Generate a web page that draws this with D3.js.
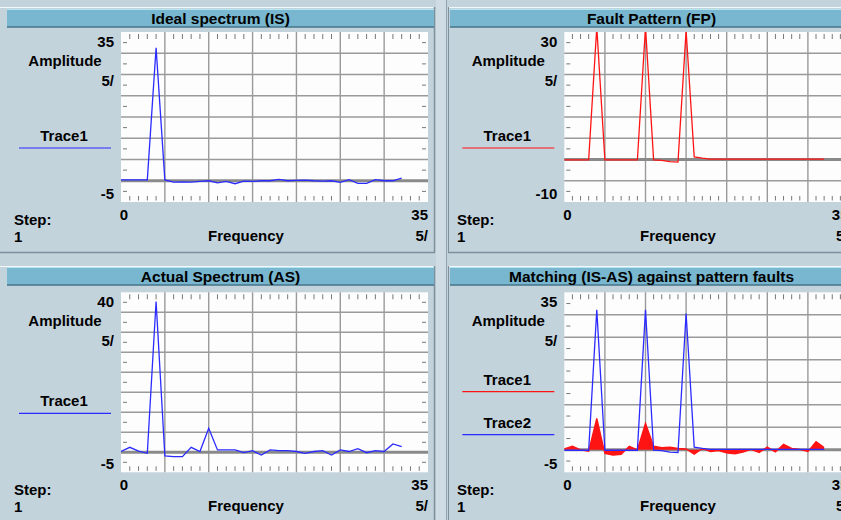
<!DOCTYPE html>
<html>
<head>
<meta charset="utf-8">
<script src="https://cdn.jsdelivr.net/npm/d3@7"></script>
<style>
  body { margin: 0; background: #c3d3dc; }
  text { font-family: "Liberation Sans", Arial, sans-serif; font-weight: bold; font-size: 15px; fill: #000; }
</style>
</head>
<body>
<div id="chart"></div>
<script>
// data (x = frequency bins, one value per bin)
const freq = [0,1,2,3,4,5,6,7,8,9,10,11,12,13,14,15,16,17,18,19,20,21,22,23,24,25,26,27,28,29,30,31,32];

const isValues = [0.2,0.2,0.2,0.2,31.3,0.2,-0.3,-0.25,-0.3,-0.15,0,-0.5,-0.15,-0.7,-0.1,-0.15,0,0,0.3,0,0.1,0.15,0,-0.1,0,-0.4,0.25,-0.6,-0.6,0.25,0,0,0.6];
const fpValues = [-0.1,-0.1,-0.1,-0.1,31.1,-0.1,-0.1,-0.1,-0.1,-0.1,31.1,-0.1,-0.2,-0.5,-0.6,30.3,0.6,0.3,0.1,0.1,0.1,0.1,0.1,0.1,0.1,0.1,0.1,0.1,0.1,0.1,0.1,0.1,0.1];
const asValues = [0.2,1.25,0.3,-0.25,37.7,-0.9,-1.1,-1.1,1.25,0.2,6.0,0.6,0.6,0.6,-0.1,0.4,-0.7,0.6,0.4,0.4,0.2,-0.25,0.2,0.4,-0.7,0.6,0.2,0.9,-0.1,0.4,0.2,2.1,1.4];
const diffValues = [0.2,0.8,0,-0.3,7.0,-0.8,-1.2,-1.0,0.8,0,5.9,0.8,0.5,0.6,0.3,0.2,-1.0,0.3,-0.4,-0.2,-0.7,-0.9,-0.5,0.1,-0.6,0.6,-0.5,1.2,0.3,0.1,-0.4,1.8,0.5];

const titles = ["Ideal spectrum (IS)", "Fault Pattern (FP)", "Actual Spectrum (AS)", "Matching (IS-AS) against pattern faults"];
const yMaxes = [35, 30, 40, 35];
const yMins = [-5, -10, -5, -5];
const xDomain = [0, 35];
const perDiv = "5/";

const blue = "#2b2bff", red = "#ff1414";
const bg = "#c3d3dc";

const W = 841, H = 520;
const svg = d3.select("#chart").append("svg").attr("width", W).attr("height", H);
svg.append("rect").attr("width", W).attr("height", H).attr("fill", bg);

// gaps between panels
svg.append("rect").attr("x", 436).attr("y", 0).attr("width", 11).attr("height", H).attr("fill", "#cfdce4");
svg.append("line").attr("x1", 446.5).attr("x2", 446.5).attr("y1", 0).attr("y2", H).attr("stroke", "#8fa2ad");

const panels = [
  { bar: [7, 434], top: 9, frame: [0, 7, 435, 246], plotL: 121, plotR: 428, plotT: 32, plotB: 202,
    series: [{ values: isValues, color: blue, name: "Trace1" }] },
  { bar: [450, 853], top: 9, frame: [448, 7, 420, 246], plotL: 564.3, plotR: 848.5, plotT: 32, plotB: 202,
    series: [{ values: fpValues, color: red, name: "Trace1" }] },
  { bar: [7, 434], top: 267, frame: [0, 266, 435, 260], plotL: 121, plotR: 428, plotT: 292.3, plotB: 472.3,
    series: [{ values: asValues, color: blue, name: "Trace1" }] },
  { bar: [450, 853], top: 267, frame: [448, 266, 420, 260], plotL: 564.3, plotR: 848.5, plotT: 292.3, plotB: 472.3,
    series: [{ values: diffValues, color: red, name: "Trace1", fill: true },
             { values: fpValues, color: blue, name: "Trace2" }] }
];

panels.forEach((p, k) => {
  const g = svg.append("g");
  const [fx, fy, fw, fh] = p.frame;

  // bevelled frame
  g.append("rect").attr("x", fx).attr("y", fy).attr("width", fw).attr("height", fh).attr("fill", bg);
  g.append("line").attr("x1", fx).attr("x2", fx + fw).attr("y1", fy + 0.5).attr("y2", fy + 0.5).attr("stroke", "#f2f7fa");
  g.append("line").attr("x1", fx).attr("x2", fx + fw).attr("y1", fy + fh - 0.5).attr("y2", fy + fh - 0.5).attr("stroke", "#7d909b").attr("stroke-width", 1.5);
  g.append("line").attr("x1", fx + fw - 0.5).attr("x2", fx + fw - 0.5).attr("y1", fy).attr("y2", fy + fh).attr("stroke", "#7d909b").attr("stroke-width", 1.5);
  if (fx > 0) g.append("line").attr("x1", fx + 0.5).attr("x2", fx + 0.5).attr("y1", fy).attr("y2", fy + fh).attr("stroke", "#7d909b");

  // title bar
  g.append("rect").attr("x", p.bar[0]).attr("y", p.top).attr("width", p.bar[1] - p.bar[0]).attr("height", 18).attr("fill", "#78b7cf");
  g.append("line").attr("x1", p.bar[0]).attr("x2", p.bar[1]).attr("y1", p.top + 0.5).attr("y2", p.top + 0.5).attr("stroke", "#b4e6f2");
  g.append("line").attr("x1", p.bar[0]).attr("x2", p.bar[1]).attr("y1", p.top + 18).attr("y2", p.top + 18).attr("stroke", "#45758a").attr("stroke-width", 1.5);
  g.append("text").attr("x", (p.bar[0] + p.bar[1]) / 2).attr("y", p.top + 14.5)
    .attr("text-anchor", "middle").style("font-size", "15.5px").text(titles[k]);

  const x = d3.scaleLinear().domain(xDomain).range([p.plotL, p.plotR]);
  const y = d3.scaleLinear().domain([yMins[k], yMaxes[k]]).range([p.plotB, p.plotT]);

  // plot area
  g.append("rect").attr("x", p.plotL).attr("y", p.plotT).attr("width", p.plotR - p.plotL).attr("height", p.plotB - p.plotT).attr("fill", "#fdfdfd");

  g.selectAll(".vgrid").data(d3.range(5, 35, 5)).enter().append("line")
    .attr("x1", d => x(d)).attr("x2", d => x(d)).attr("y1", p.plotT).attr("y2", p.plotB)
    .attr("stroke", "#9a9a9a").attr("stroke-width", 1.4);
  g.selectAll(".hgrid").data(d3.range(yMins[k] + 5, yMaxes[k], 5)).enter().append("line")
    .attr("x1", p.plotL).attr("x2", p.plotR).attr("y1", d => y(d)).attr("y2", d => y(d))
    .attr("stroke", "#9a9a9a").attr("stroke-width", 1.4);

  // minor ticks
  const minorX = d3.range(1, 35).filter(v => v % 5 !== 0);
  [[p.plotT + 2, p.plotT + 7], [p.plotB - 6, p.plotB - 1.5]].forEach(([a, b]) => {
    g.selectAll(null).data(minorX).enter().append("line")
      .attr("x1", d => x(d)).attr("x2", d => x(d)).attr("y1", a).attr("y2", b)
      .attr("stroke", "#777").attr("stroke-width", 1);
  });
  const minorY = d3.range(yMins[k] + 2.5, yMaxes[k], 5);
  [[p.plotL + 2, p.plotL + 6], [p.plotR - 6, p.plotR - 2]].forEach(([a, b]) => {
    g.selectAll(null).data(minorY).enter().append("line")
      .attr("x1", a).attr("x2", b).attr("y1", d => y(d)).attr("y2", d => y(d))
      .attr("stroke", "#777").attr("stroke-width", 1);
  });

  // zero line
  g.append("line").attr("x1", p.plotL).attr("x2", p.plotR).attr("y1", y(0)).attr("y2", y(0))
    .attr("stroke", "#8a8a8a").attr("stroke-width", 3);

  // traces
  const clipId = "clip" + k;
  g.append("clipPath").attr("id", clipId).append("rect")
    .attr("x", p.plotL).attr("y", p.plotT).attr("width", p.plotR - p.plotL).attr("height", p.plotB - p.plotT);
  const traces = g.append("g").attr("clip-path", `url(#${clipId})`);
  p.series.forEach(s => {
    if (s.fill) {
      const area = d3.area().x((d, i) => x(freq[i])).y0(y(0)).y1(d => y(d));
      traces.append("path").datum(s.values).attr("d", area).attr("fill", s.color);
    }
    const line = d3.line().x((d, i) => x(freq[i])).y(d => y(d));
    traces.append("path").datum(s.values).attr("d", line)
      .attr("fill", "none").attr("stroke", s.color).attr("stroke-width", 1.3);
  });

  // y labels
  g.append("text").attr("x", p.plotL - 7).attr("y", p.plotT + 15).attr("text-anchor", "end").text(yMaxes[k]);
  g.append("text").attr("x", p.plotL - 56).attr("y", p.plotT + 34).attr("text-anchor", "middle").text("Amplitude");
  g.append("text").attr("x", p.plotL - 7).attr("y", p.plotT + 54).attr("text-anchor", "end").text(perDiv);
  g.append("text").attr("x", p.plotL - 7).attr("y", p.plotB - 3).attr("text-anchor", "end").text(yMins[k]);

  // legend
  const mid = (p.plotT + p.plotB) / 2;
  const offsets = p.series.length === 1 ? [31] : [9.4, 52.4];
  p.series.forEach((s, i) => {
    const ly = mid + offsets[i];
    g.append("text").attr("x", p.plotL - 57).attr("y", ly - 7).attr("text-anchor", "middle").text(s.name);
    g.append("line").attr("x1", p.plotL - 102).attr("x2", p.plotL - 10).attr("y1", ly).attr("y2", ly)
      .attr("stroke", s.color).attr("stroke-width", 1.2);
  });

  // x labels (right panels are cut by the window edge, as in the original)
  g.append("text").attr("x", x(xDomain[0]) + 3).attr("y", p.plotB + 18).attr("text-anchor", "middle").text(xDomain[0]);
  g.append("text").attr("x", x(xDomain[1])).attr("y", p.plotB + 18).attr("text-anchor", "end").text(xDomain[1]);
  g.append("text").attr("x", (p.plotL + p.plotR) / 2 - 28.5).attr("y", p.plotB + 39).attr("text-anchor", "middle").text("Frequency");
  g.append("text").attr("x", x(xDomain[1])).attr("y", p.plotB + 39).attr("text-anchor", "end").text(perDiv);
  g.append("text").attr("x", p.bar[0] + 7).attr("y", p.plotB + 23).text("Step:");
  g.append("text").attr("x", p.bar[0] + 7).attr("y", p.plotB + 40).text("1");
});
</script>
</body>
</html>
